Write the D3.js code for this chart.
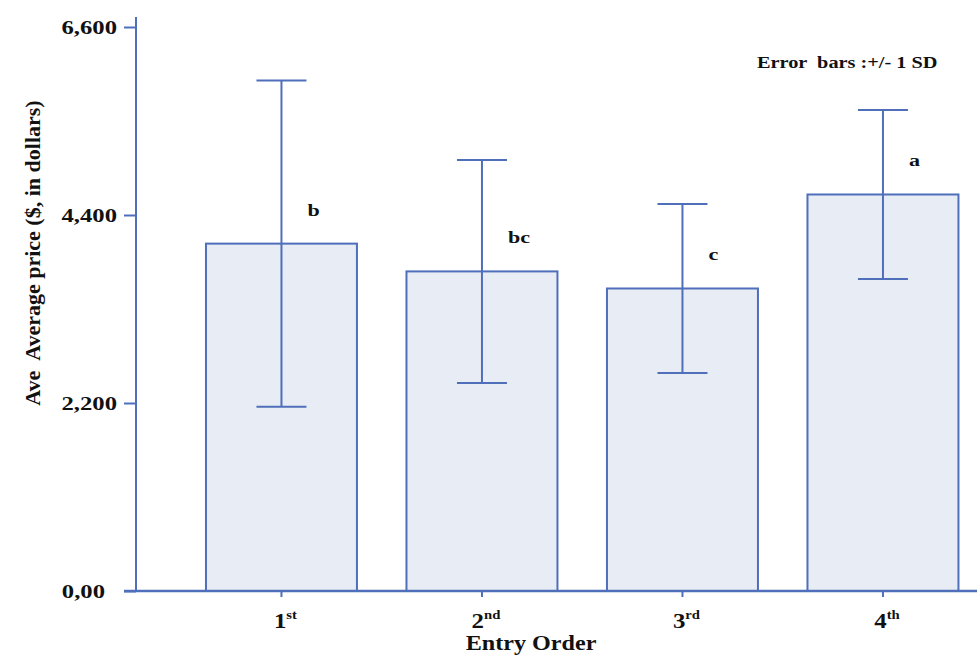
<!DOCTYPE html>
<html><head><meta charset="utf-8">
<script src="https://cdn.jsdelivr.net/npm/d3@7/dist/d3.min.js"></script>
<style>body{margin:0;background:#fff}svg{display:block}text{font-family:"Liberation Serif","Times New Roman",serif;font-weight:bold;fill:#111}</style>
</head><body><svg id="c" width="977" height="657"></svg>
<script>
const categories = ["1", "2", "3", "4"];
const suffixes = ["st", "nd", "rd", "th"];
const means = [4065, 3740, 3540, 4640];
const sds = [1908, 1305, 989, 989];
const letters = ["b", "bc", "c", "a"];
const yTicks = [0, 2200, 4400, 6600];
const yTickLabels = ["0,00", "2,200", "4,400", "6,600"];

const svg = d3.select("#c");
const blue = "#4f6fba";
const x0 = 136, yBase = 591;
const y = d3.scaleLinear().domain([0, 6600]).range([yBase, 27]);
const step = 200.5;
const x = d3.scaleBand().domain(categories)
  .range([x0, x0 + step * (4 - 0.247 + 2 * 0.349)])
  .paddingInner(0.247).paddingOuter(0.349);

function addText(px, py, anchor, size, sx) {
  return svg.append("text")
    .attr("transform", `translate(${px},${py}) scale(${sx},1)`)
    .attr("text-anchor", anchor).attr("font-size", size);
}

// bars
svg.selectAll("rect.bar").data(categories).join("rect")
  .attr("x", d => x(d)).attr("width", x.bandwidth())
  .attr("y", (d, i) => y(means[i])).attr("height", (d, i) => yBase - y(means[i]))
  .attr("fill", "#e8ecf5").attr("stroke", blue).attr("stroke-width", 2);

// error bars + letters
const g = svg.append("g").attr("stroke", blue).attr("stroke-width", 2);
categories.forEach((d, i) => {
  const cx = x(d) + x.bandwidth() / 2;
  const hi = y(means[i] + sds[i]), lo = y(means[i] - sds[i]);
  g.append("line").attr("x1", cx).attr("x2", cx).attr("y1", hi).attr("y2", lo);
  g.append("line").attr("x1", cx - 25).attr("x2", cx + 25).attr("y1", hi).attr("y2", hi);
  g.append("line").attr("x1", cx - 25).attr("x2", cx + 25).attr("y1", lo).attr("y2", lo);
  addText(cx + 26, y(means[i]) - 28, "start", 17, 1.3).text(letters[i]);
});

// y axis
const yAxis = d3.axisLeft(y).tickValues(yTicks).tickFormat((d, i) => yTickLabels[i]).tickSize(12);
const ya = svg.append("g").attr("transform", `translate(${x0},0)`).call(yAxis);
ya.select(".domain").remove();
ya.selectAll(".tick line").attr("stroke", blue).attr("stroke-width", 2);
ya.selectAll(".tick text")
  .attr("x", 0).attr("dy", "0.33em")
  .attr("transform", d => `translate(${d === 0 ? -31 : -19},0) scale(1.3,1)`)
  .attr("font-size", 19).attr("font-family", null).attr("fill", "#111");
svg.append("line").attr("x1", x0).attr("x2", x0).attr("y1", 17).attr("y2", yBase + 1).attr("stroke", blue).attr("stroke-width", 2);

// x axis
svg.append("line").attr("x1", 124).attr("x2", 977).attr("y1", yBase).attr("y2", yBase).attr("stroke", blue).attr("stroke-width", 2.5);
categories.forEach((d, i) => {
  const cx = x(d) + x.bandwidth() / 2;
  svg.append("line").attr("x1", cx).attr("x2", cx).attr("y1", yBase).attr("y2", yBase + 6).attr("stroke", blue).attr("stroke-width", 2);
  const t = addText(cx + 4, 628, "middle", 22, 1.13);
  t.append("tspan").text(d);
  t.append("tspan").attr("font-size", 13).attr("dy", -9).text(suffixes[i]);
});

addText(531, 650, "middle", 21, 1.15).text("Entry Order");
svg.append("text").attr("transform", "translate(40,253) rotate(-90)").attr("text-anchor", "middle").attr("font-size", 22)
  .attr("xml:space", "preserve").text("Ave  Average price ($, in dollars)");
addText(757, 68, "start", 16, 1.27).attr("xml:space", "preserve").text("Error  bars :+/- 1 SD");
</script></body></html>
